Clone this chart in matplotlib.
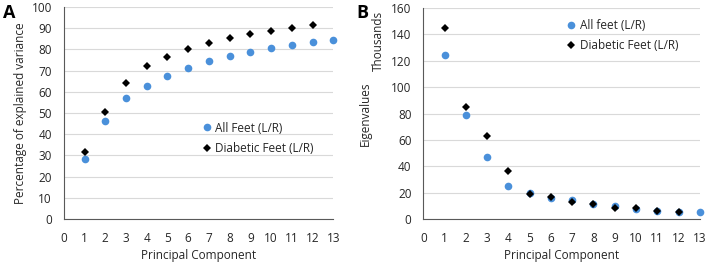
import matplotlib
matplotlib.use("Agg")
import matplotlib.pyplot as plt
import numpy as np

plt.rcParams['font.family'] = ['Open Sans', 'DejaVu Sans']

# ── Data ──────────────────────────────────────────────────────────────────────
pc_all = list(range(1, 14))
pc_dia = list(range(1, 13))

var_all = [28.3, 46.4, 57.1, 62.9, 67.3, 71.1, 74.4, 77.0, 79.0, 80.8, 82.2, 83.5, 84.7]
var_dia = [31.8, 50.3, 64.2, 72.2, 76.4, 80.2, 82.9, 85.4, 87.1, 88.8, 90.2, 91.5]

eig_all = [124.4, 78.6, 47.3, 25.0, 19.7, 16.3, 14.7, 11.2, 9.6, 7.7, 5.9, 5.2, 5.1]
eig_dia = [144.8, 85.2, 62.7, 36.8, 19.1, 16.8, 12.9, 11.1, 8.2, 8.1, 5.9, 5.3]

BLUE = "#4A90DA"
GRID = "#D9D9D9"
TXT = "#262626"

fig = plt.figure(figsize=(7.09, 2.62), dpi=100)
axA = fig.add_axes([0.090, 0.164, 0.380, 0.809])
axB = fig.add_axes([0.597, 0.164, 0.390, 0.805])


def style(ax, ymax, ystep):
    ax.set_xlim(0, 13)
    ax.set_ylim(0, ymax)
    ax.set_xticks(range(0, 14))
    ax.set_yticks(np.arange(0, ymax + 1, ystep))
    ax.grid(axis="y", color=GRID, lw=0.8)
    ax.set_axisbelow(True)
    for s in ["top", "right"]:
        ax.spines[s].set_visible(False)
    ax.spines["left"].set_color("#595959")
    ax.spines["bottom"].set_color("#595959")
    ax.tick_params(length=0, labelsize=8.5, colors=TXT)
    ax.tick_params(axis="x", pad=9)
    ax.tick_params(axis="y", pad=8.5)
    ax.set_xlabel("Principal Component", fontsize=8.5, color=TXT, labelpad=3.5)


# ── Panel A ───────────────────────────────────────────────────────────────────
style(axA, 100, 10)
axA.plot(pc_all, var_all, "o", color=BLUE, ms=5.5, mew=0, clip_on=False,
         label="All Feet (L/R)")
axA.plot(pc_dia, var_dia, "D", color="black", ms=3.6, mew=0, clip_on=False,
         label="Diabetic Feet (L/R)")
axA.set_ylabel("Percentage of explained variance", fontsize=8.5, color=TXT, labelpad=3)
axA.legend(loc="upper left", bbox_to_anchor=(0.465, 0.51), frameon=False,
           fontsize=8.5, handletextpad=0.1, labelspacing=0.6, handlelength=1.2,
           labelcolor=TXT)
fig.text(0.004, 0.985, "A", fontsize=13, fontweight="bold", va="top", ha="left")

# ── Panel B ───────────────────────────────────────────────────────────────────
style(axB, 160, 20)
axB.plot(pc_all, eig_all, "o", color=BLUE, ms=5.5, mew=0, clip_on=False,
         label="All feet (L/R)")
axB.plot(pc_dia, eig_dia, "D", color="black", ms=3.6, mew=0, clip_on=False,
         label="Diabetic Feet (L/R)")
axB.legend(loc="upper left", bbox_to_anchor=(0.472, 1.0), frameon=False,
           fontsize=8.5, handletextpad=0.1, labelspacing=0.6, handlelength=1.2,
           labelcolor=TXT)
fig.text(0.516, 0.565, "Eigenvalues", fontsize=8.5, color=TXT, rotation=90,
         ha="center", va="center")
fig.text(0.533, 0.845, "Thousands", fontsize=8.5, color=TXT, rotation=90,
         ha="center", va="center")
fig.text(0.503, 0.985, "B", fontsize=13, fontweight="bold", va="top", ha="left")

fig.savefig("out.png", dpi=100)
